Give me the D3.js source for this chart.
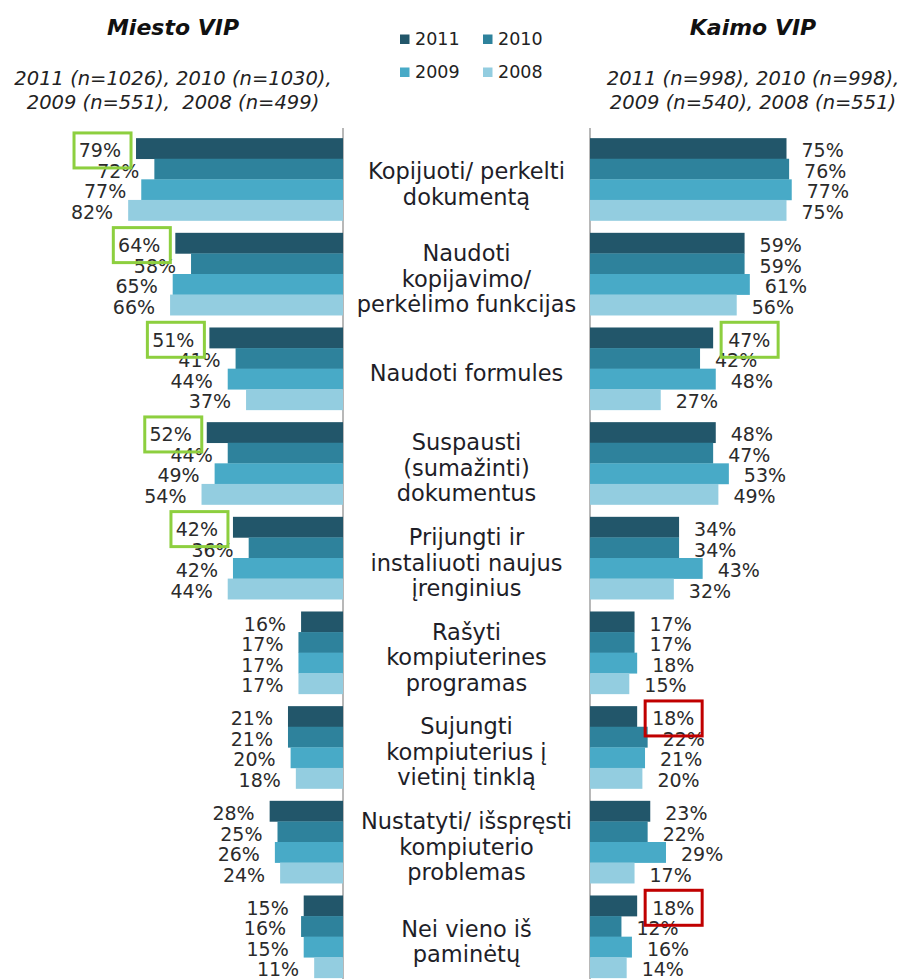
<!DOCTYPE html>
<html>
<head>
<meta charset="utf-8">
<script src="https://cdn.jsdelivr.net/npm/d3@7"></script>
<style>
  body { margin: 0; background: #fff; }
  svg { display: block; font-family: "DejaVu Sans", Verdana, sans-serif; }
  .val { font-size: 19px; fill: #2b2b2b; }
  .cat { font-size: 22.5px; fill: #1e1e28; }
</style>
</head>
<body>
<svg id="chart" width="907" height="979"></svg>
<script>
// Categories (line breaks marked with |)
const categories = [
  'Kopijuoti/ perkelti|dokumentą',
  'Naudoti|kopijavimo/|perkėlimo funkcijas',
  'Naudoti formules',
  'Suspausti|(sumažinti)|dokumentus',
  'Prijungti ir|instaliuoti naujus|įrenginius',
  'Rašyti|kompiuterines|programas',
  'Sujungti|kompiuterius į|vietinį tinklą',
  'Nustatyti/ išspręsti|kompiuterio|problemas',
  'Nei vieno iš|paminėtų'
];
const years = ['2011', '2010', '2009', '2008'];
const colors = ['#22566a', '#2e829c', '#48aac7', '#93cde0'];

// Miesto VIP values per category: 2011, 2010, 2009, 2008
const miesto = [
  [79, 72, 77, 82],
  [64, 58, 65, 66],
  [51, 41, 44, 37],
  [52, 44, 49, 54],
  [42, 36, 42, 44],
  [16, 17, 17, 17],
  [21, 21, 20, 18],
  [28, 25, 26, 24],
  [15, 16, 15, 11]
];
// Kaimo VIP values per category: 2011, 2010, 2009, 2008
const kaimo = [
  [75, 76, 77, 75],
  [59, 59, 61, 56],
  [47, 42, 48, 27],
  [48, 47, 53, 49],
  [34, 34, 43, 32],
  [17, 17, 18, 15],
  [18, 22, 21, 20],
  [23, 22, 29, 17],
  [18, 12, 16, 14]
];
// highlighted labels: side, category index, series index, colour
const highlights = [
  ['L', 0, 0, '#8dcf3f'], ['L', 1, 0, '#8dcf3f'], ['L', 2, 0, '#8dcf3f'],
  ['L', 3, 0, '#8dcf3f'], ['L', 4, 0, '#8dcf3f'], ['R', 2, 0, '#8dcf3f'],
  ['R', 6, 0, '#c00000'], ['R', 8, 0, '#c00000']
];

const titles = {
  L: ['Miesto VIP', '2011 (n=1026), 2010 (n=1030),', '2009 (n=551),  2008 (n=499)'],
  R: ['Kaimo VIP', '2011 (n=998), 2010 (n=998),', '2009 (n=540), 2008 (n=551)']
};

const svg = d3.select('#chart');

const axisL = 343, axisR = 590;
const xL = d3.scaleLinear().domain([0, 100]).range([axisL, axisL - 262]);
const xR = d3.scaleLinear().domain([0, 100]).range([axisR, axisR + 262]);

const y0 = d3.scaleBand().domain(d3.range(categories.length))
  .range([132, 984]).paddingInner(0.13).paddingOuter(0.065);
const y1 = d3.scaleBand().domain(d3.range(years.length)).range([0, y0.bandwidth()]);

// Titles
function drawTitle(lines, cx) {
  svg.append('text').attr('x', cx).attr('y', 35)
    .attr('text-anchor', 'middle')
    .attr('font-size', '22px').attr('font-weight', 'bold').attr('font-style', 'italic')
    .attr('fill', '#111').text(lines[0]);
  lines.slice(1).forEach((t, i) => {
    svg.append('text').attr('x', cx).attr('y', 85 + i * 23.5)
      .attr('text-anchor', 'middle').attr('font-size', '19.5px').attr('font-style', 'italic')
      .attr('fill', '#222').attr('xml:space', 'preserve').text(t);
  });
}
drawTitle(titles.L, 173);
drawTitle(titles.R, 753);

// Legend
const legend = svg.append('g');
years.forEach((yr, i) => {
  const lx = 400 + (i % 2) * 83, ly = 39 + Math.floor(i / 2) * 33;
  legend.append('rect').attr('x', lx).attr('y', ly - 4.5).attr('width', 9.5).attr('height', 9.5)
    .attr('fill', colors[i]);
  legend.append('text').attr('x', lx + 15).attr('y', ly + 6)
    .attr('font-size', '17.5px').attr('fill', '#222').text(yr);
});

// Axis lines
[axisL, axisR].forEach(ax => {
  svg.append('line').attr('x1', ax).attr('x2', ax).attr('y1', 128).attr('y2', 979)
    .attr('stroke', '#a0a0a0').attr('stroke-width', 1.5);
});

const labelCy = j => y1(j) + y1.bandwidth() / 2 + 2;

function drawSide(data, x, side) {
  const g = svg.append('g');
  const grp = g.selectAll('g').data(data).join('g')
    .attr('transform', (d, i) => `translate(0,${y0(i)})`);
  grp.selectAll('rect').data(d => d).join('rect')
    .attr('x', d => side === 'L' ? x(d) : x(0))
    .attr('width', d => Math.abs(x(d) - x(0)))
    .attr('y', (d, j) => y1(j))
    .attr('height', y1.bandwidth() + 0.3)
    .attr('fill', (d, j) => colors[j]);
  grp.selectAll('text').data(d => d).join('text')
    .attr('class', 'val')
    .attr('x', d => side === 'L' ? x(d) - 15 : x(d) + 15)
    .attr('y', (d, j) => labelCy(j))
    .attr('dy', '0.36em')
    .attr('text-anchor', side === 'L' ? 'end' : 'start')
    .text(d => d + '%');
}
drawSide(miesto, xL, 'L');
drawSide(kaimo, xR, 'R');

// Highlight boxes
highlights.forEach(([side, ci, si, col]) => {
  const v = side === 'L' ? miesto[ci][si] : kaimo[ci][si];
  const cy = y0(ci) + labelCy(si);
  const w = 57, h = 35;
  const bx = side === 'L' ? xL(v) - 15 - 42 - 5 : xR(v) + 15 - 7;
  svg.append('rect').attr('x', bx).attr('y', cy - h / 2).attr('width', w).attr('height', h)
    .attr('fill', 'none').attr('stroke', col).attr('stroke-width', 3);
});

// Category labels
const catX = (axisL + axisR) / 2;
categories.forEach((c, i) => {
  const lines = c.split('|');
  const lh = 25.5;
  const cy = y0(i) + y0.bandwidth() / 2 + 4.5;
  const t = svg.append('text').attr('class', 'cat').attr('text-anchor', 'middle');
  lines.forEach((ln, k) => {
    t.append('tspan').attr('x', catX)
      .attr('y', cy + (k - (lines.length - 1) / 2) * lh)
      .attr('dy', '0.36em').text(ln);
  });
});
</script>
</body>
</html>
